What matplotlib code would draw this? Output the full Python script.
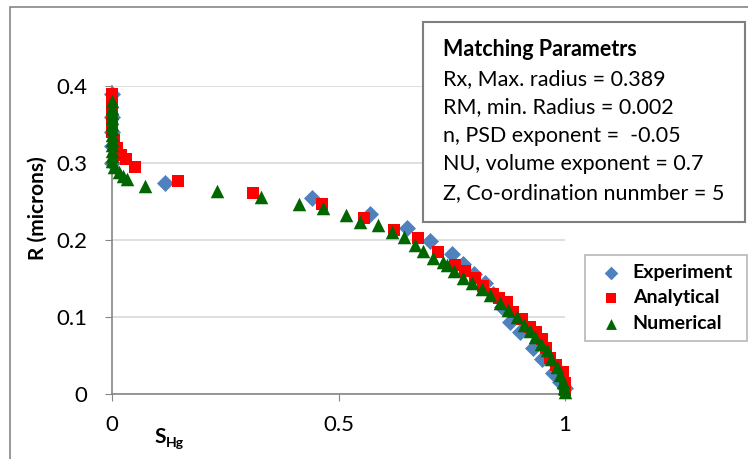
import matplotlib
matplotlib.use("Agg")
import matplotlib.pyplot as plt
from matplotlib.patches import Rectangle

plt.rcParams['font.family'] = ['Lato', 'DejaVu Sans']

# Experiment (blue diamonds)
exp_x = [0.0, 0.0, 0.0, 0.0, 0.0, 0.117, 0.442, 0.570, 0.651, 0.702, 0.750, 0.775,
         0.800, 0.823, 0.840, 0.860, 0.879, 0.900, 0.929, 0.950, 0.974, 0.990, 1.0]
exp_y = [0.39, 0.36, 0.34, 0.322, 0.300, 0.274, 0.254, 0.234, 0.215, 0.199, 0.182, 0.169,
         0.156, 0.144, 0.130, 0.113, 0.093, 0.080, 0.060, 0.045, 0.027, 0.016, 0.008]

# Analytical (red squares)
ana_x = [0.0, 0.0, 0.0, 0.0, 0.0, 0.0, 0.005, 0.010, 0.020, 0.031, 0.051, 0.146,
         0.311, 0.464, 0.556, 0.623, 0.675, 0.720, 0.757, 0.780, 0.801, 0.820, 0.840,
         0.855, 0.872, 0.885, 0.905, 0.923, 0.937, 0.949, 0.958, 0.967, 0.980, 0.996,
         1.0, 1.0]
ana_y = [0.39, 0.38, 0.37, 0.36, 0.35, 0.34, 0.33, 0.32, 0.31, 0.305, 0.295, 0.276,
         0.261, 0.247, 0.229, 0.213, 0.202, 0.184, 0.168, 0.160, 0.151, 0.140, 0.130,
         0.125, 0.119, 0.106, 0.097, 0.087, 0.080, 0.072, 0.060, 0.047, 0.038, 0.028,
         0.014, 0.005]

# Numerical (green triangles)
num_x = [0.0, 0.0, 0.0, 0.0, 0.0, 0.0, 0.0, 0.0, 0.0, 0.0, 0.0, 0.0,
         0.005, 0.015, 0.025, 0.033, 0.073, 0.232, 0.329, 0.413, 0.466, 0.517, 0.547,
         0.587, 0.618, 0.645, 0.669, 0.687, 0.709, 0.731, 0.740, 0.755, 0.775, 0.795,
         0.817, 0.835, 0.857, 0.875, 0.894, 0.910, 0.922, 0.934, 0.947, 0.960, 0.970,
         0.982, 0.990, 0.995, 0.998, 1.0]
num_y = [0.380, 0.372, 0.365, 0.358, 0.351, 0.344, 0.337, 0.330, 0.323, 0.316, 0.309, 0.302,
         0.295, 0.288, 0.283, 0.279, 0.270, 0.263, 0.256, 0.247, 0.241, 0.232, 0.223,
         0.219, 0.210, 0.204, 0.193, 0.186, 0.177, 0.171, 0.167, 0.160, 0.151, 0.144,
         0.137, 0.128, 0.118, 0.109, 0.100, 0.090, 0.082, 0.074, 0.065, 0.057, 0.046,
         0.035, 0.025, 0.016, 0.008, 0.002]

params = ["Rx, Max. radius = 0.389",
          "RM, min. Radius = 0.002",
          "n, PSD exponent =  -0.05",
          "NU, volume exponent = 0.7",
          "Z, Co-ordination nunmber = 5"]

W, H = 748, 459
fig = plt.figure(figsize=(W / 100, H / 100), dpi=100)
ax = fig.add_axes([112 / W, 1 - 394 / H, (565 - 112) / W, (394 - 86) / H])

ax.scatter(exp_x, exp_y, marker='D', s=75, color='#4F81BD', label='Experiment',
           zorder=3, linewidths=0, clip_on=False)
ax.scatter(ana_x, ana_y, marker='s', s=80, color='#FF0000', label='Analytical',
           zorder=4, linewidths=0, clip_on=False)
ax.scatter(num_x, num_y, marker='^', s=95, color='#006600', label='Numerical',
           zorder=5, linewidths=0, clip_on=False)

ax.set_xlim(0, 1)
ax.set_ylim(0, 0.4)
ax.set_xticks([0, 0.5, 1])
ax.set_xticklabels(['0', '0.5', '1'])
ax.set_yticks([0, 0.1, 0.2, 0.3, 0.4])
ax.set_yticklabels(['0', '0.1', '0.2', '0.3', '0.4'])
ax.grid(axis='y', color='#D9D9D9', linewidth=1.2)
ax.set_axisbelow(True)
for s in ['top', 'right']:
    ax.spines[s].set_visible(False)
for s in ['left', 'bottom']:
    ax.spines[s].set_color('#868686')
    ax.spines[s].set_linewidth(1.2)
ax.tick_params(axis='y', length=5, color='#868686', pad=13, labelsize=16)
ax.tick_params(axis='x', length=5, color='#868686', pad=10, labelsize=16)

fig.text(38 / W, 1 - 208 / H, 'R (microns)', rotation=90, fontsize=15,
         fontweight='bold', ha='center', va='center')
fig.text(154 / W, 1 - 437 / H, 'S', fontsize=15, fontweight='bold',
         ha='left', va='center')
fig.text(166 / W, 1 - 443 / H, 'Hg', fontsize=10, fontweight='bold',
         ha='left', va='center')

# parameter box
fig.patches.append(Rectangle((423 / W, 1 - 222 / H), (745 - 423) / W, 200 / H,
                             transform=fig.transFigure, facecolor='white',
                             edgecolor='#7F7F7F', linewidth=1.5, zorder=10))
fig.text(443 / W, 1 - 50 / H, 'Matching Parametrs', fontsize=15.5, fontweight='bold',
         va='center', zorder=11)
for i, line in enumerate(params):
    fig.text(443 / W, 1 - (79 + 28.5 * i) / H, line, fontsize=15.5, va='center',
             zorder=11)

leg = fig.legend(loc='upper left', bbox_to_anchor=(585 / W, 1 - 345 / H, 162 / W, 90 / H),
                 mode='expand', borderaxespad=0, frameon=True, fancybox=False,
                 edgecolor='#A6A6A6', prop={'weight': 'bold', 'size': 14},
                 handletextpad=0.2, borderpad=0.45, labelspacing=0.45,
                 handlelength=1.8, markerscale=0.8)
leg.get_frame().set_linewidth(1.2)

# chart area border
fig.patches.append(Rectangle((10 / W, -0.1), 1.2, 1 - 7 / H + 0.1,
                             transform=fig.transFigure, facecolor='none',
                             edgecolor='#868686', linewidth=1.2))

fig.savefig('out.png', dpi=100)
